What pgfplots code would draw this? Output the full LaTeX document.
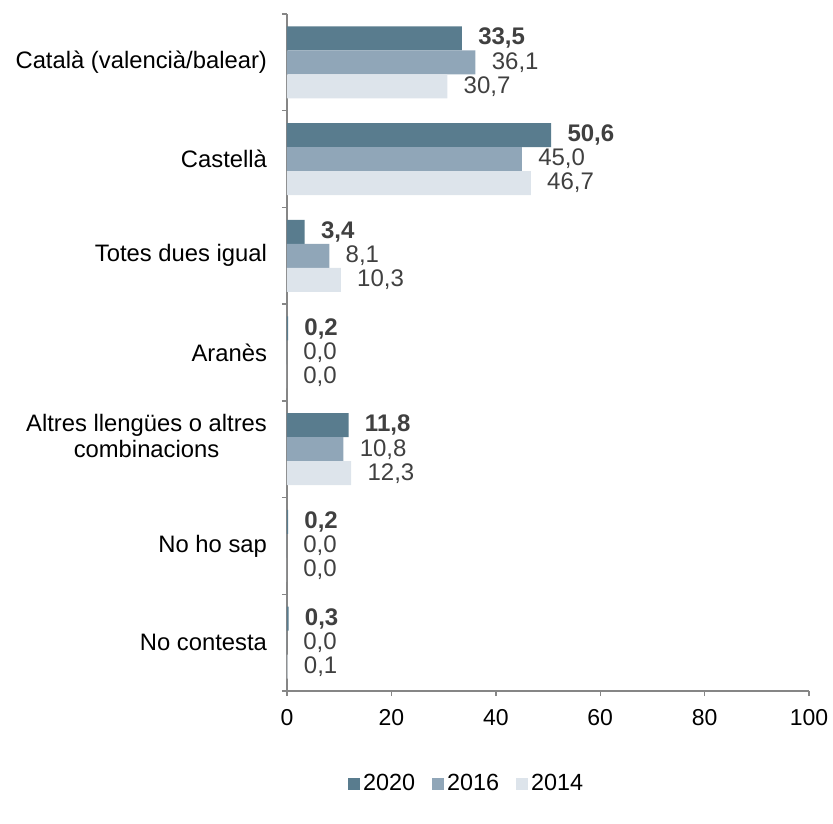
\documentclass[border=0pt]{standalone}
\usepackage{pgfplots}
\pgfplotsset{compat=1.18}
\usepackage{fontspec}
\setmainfont{Liberation Sans}
\definecolor{c2020}{HTML}{597C8E}
\definecolor{c2016}{HTML}{90A6B8}
\definecolor{c2014}{HTML}{DDE4EB}
\definecolor{axgray}{HTML}{868686}
\definecolor{lblgray}{HTML}{404040}
\begin{document}
\begin{tikzpicture}
    \begin{axis}[
        at={(0,0)}, anchor=south west,
        scale only axis,
        width=261pt, height=338.5pt,
        xbar, bar width=12pt,
        xmin=0, xmax=100,
        ymin=-0.5, ymax=6.5,
        xtick={0,20,...,100},
        ytick={0,...,6},
        yticklabels={No contesta, No ho sap,
            {Altres llengües o altres\\combinacions\\\mbox{}},
            Aranès, Totes dues igual, Castellà, Català (valencià/balear)},
        minor ytick={-0.5,0.5,...,6.5},
        axis x line*=bottom, axis y line*=left,
        axis line style={axgray, line width=0.7pt},
        every tick/.style={axgray, line width=0.7pt},
        tick align=outside,
        major tick length=2.5pt,
        minor tick length=2.5pt,
        every major y tick/.append style={draw=none},
        yticklabel style={font=\fontsize{11.9}{13}\selectfont, align=center, xshift=-4pt},
        xticklabel style={font=\fontsize{11.5}{13}\selectfont, yshift=-3pt},
        /pgf/number format/assume math mode=true,
        nodes near coords,
        point meta=x,
        nodes near coords style={
            /pgf/number format/.cd, fixed, fixed zerofill, precision=1, use comma,
            /tikz/.cd, anchor=west, inner sep=0pt, xshift=8pt,
            text=lblgray, font=\fontsize{12}{14}\selectfont},
        legend columns=3,
        legend style={draw=none, at={(0.345,-0.137)}, anchor=center,
            font=\fontsize{11.7}{13}\selectfont,
            /tikz/every even column/.append style={column sep=7pt},
            nodes={inner sep=1.5pt}},
        legend image code/.code={\fill[#1] (0pt,-3pt) rectangle (6pt,3pt);},
    ]
        \addplot[fill=c2020, draw=none, bar shift=12pt,
            every node near coord/.append style={font=\fontsize{12}{14}\selectfont\bfseries}]
            coordinates {(0.3,0) (0.2,1) (11.8,2) (0.2,3) (3.4,4) (50.6,5) (33.5,6)};
        \addplot[fill=c2016, draw=none, bar shift=0pt]
            coordinates {(0.0,0) (0.0,1) (10.8,2) (0.0,3) (8.1,4) (45.0,5) (36.1,6)};
        \addplot[fill=c2014, draw=none, bar shift=-12pt]
            coordinates {(0.1,0) (0.0,1) (12.3,2) (0.0,3) (10.3,4) (46.7,5) (30.7,6)};
        \legend{2020, 2016, 2014}
    \end{axis}
    \pgfresetboundingbox
    \path[use as bounding box] (-143.5pt,-66pt) rectangle (273pt,345.5pt);
\end{tikzpicture}
\end{document}
